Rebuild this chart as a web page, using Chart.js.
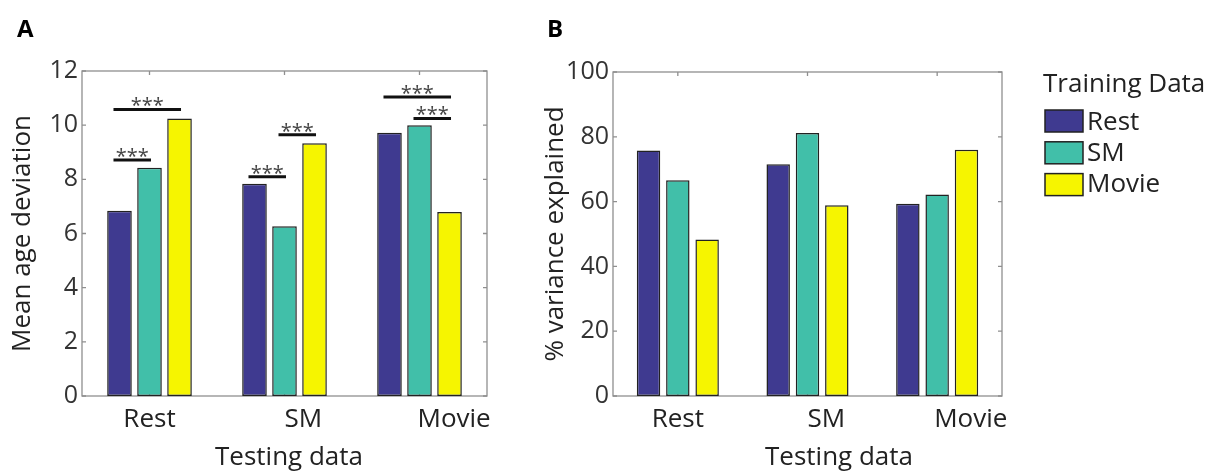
<!DOCTYPE html>
<html>
<head>
<meta charset="utf-8">
<script src="https://cdn.jsdelivr.net/npm/chart.js@4.4.1/dist/chart.umd.min.js"></script>
<style>
html,body{margin:0;padding:0;background:#fff;}
#wrap{position:relative;width:1222px;height:472px;overflow:hidden;background:#fff;}
#cA{position:absolute;left:0;top:0;}
#cB{position:absolute;left:530px;top:0;}
</style>
</head>
<body>
<div id="wrap">
<canvas id="cA" width="530" height="472"></canvas>
<canvas id="cB" width="692" height="472"></canvas>
</div>
<script>
// ---------- data ----------
const testingCategories = ['Rest', 'SM', 'Movie'];
const trainingLabels = ['Rest', 'SM', 'Movie'];

// Panel A: mean age deviation (per testing category), one array per training data
const ageDevTrainRest  = [6.84, 7.84, 9.72];
const ageDevTrainSM    = [8.43, 6.27, 10.00];
const ageDevTrainMovie = [10.25, 9.33, 6.79];
const ageDevTicks = [0, 2, 4, 6, 8, 10, 12];

// Panel B: % variance explained
const varExpTrainRest  = [75.8, 71.5, 59.3];
const varExpTrainSM    = [66.6, 81.2, 62.2];
const varExpTrainMovie = [48.3, 58.9, 76.0];
const varExpTicks = [0, 20, 40, 60, 80, 100];

// Significance brackets in panel A
const sigCategory = [0, 0, 1, 1, 2, 2];
const sigFromSeries = [0, 0, 0, 1, 0, 1];
const sigToSeries   = [2, 1, 1, 2, 2, 2];
const sigLevel = [10.58, 8.71, 8.10, 9.65, 11.04, 10.25];
const sigText = ['***', '***', '***', '***', '***', '***'];

// ---------- styles ----------
const FONT = '"Open Sans", "DejaVu Sans", sans-serif';
const seriesColors = ['#3f3a90', '#41bfa9', '#f6f500'];
const textColor = '#222222';
const frameColor = '#8f8f8f';

function makeDatasets(arrays) {
  return arrays.map((vals, i) => ({
    label: trainingLabels[i],
    data: vals,
    backgroundColor: seriesColors[i],
    borderColor: '#222222',
    borderWidth: 1.5,
    borderSkipped: false
  }));
}

function framePlugin(cfg) {
  return {
    id: 'frame' + cfg.letter,
    beforeDatasetsDraw(chart) {
      const {ctx, chartArea: a, scales: {x, y}} = chart;
      ctx.save();
      ctx.strokeStyle = frameColor;
      ctx.lineWidth = 1.3;
      ctx.beginPath();
      y.ticks.forEach((t, i) => {
        const py = y.getPixelForTick(i);
        ctx.moveTo(a.left, py); ctx.lineTo(a.left + 4, py);
        ctx.moveTo(a.right, py); ctx.lineTo(a.right - 4, py);
      });
      x.ticks.forEach((t, i) => {
        const px = x.getPixelForTick(i);
        ctx.moveTo(px, a.top); ctx.lineTo(px, a.top + 4);
        ctx.moveTo(px, a.bottom); ctx.lineTo(px, a.bottom - 4);
      });
      ctx.stroke();
      ctx.strokeRect(a.left, a.top, a.right - a.left, a.bottom - a.top);
      ctx.restore();
    },
    afterDraw(chart) {
      const {ctx, chartArea: a, scales: {x}} = chart;
      ctx.save();
      ctx.fillStyle = textColor;
      ctx.textBaseline = 'alphabetic';
      // x tick labels
      ctx.font = '26px ' + FONT;
      testingCategories.forEach((c, i) => {
        const px = x.getPixelForValue(i);
        ctx.textAlign = i === 0 ? 'center' : 'left';
        ctx.fillText(c, px + cfg.labelShift[i], 427);
      });
      // x axis title
      ctx.textAlign = 'center';
      ctx.fillText('Testing data', (a.left + a.right) / 2 + cfg.titleShift, 465);
      // panel letter
      ctx.font = 'bold 24px ' + FONT;
      ctx.textAlign = 'left';
      ctx.fillStyle = '#000';
      ctx.fillText(cfg.letter, 17, 37);
      ctx.restore();
    }
  };
}

const sigPlugin = {
  id: 'sig',
  afterDatasetsDraw(chart) {
    const {ctx, scales: {y}} = chart;
    ctx.save();
    for (let k = 0; k < sigLevel.length; k++) {
      const c = sigCategory[k];
      const b0 = chart.getDatasetMeta(sigFromSeries[k]).data[c];
      const b1 = chart.getDatasetMeta(sigToSeries[k]).data[c];
      const x0 = b0.x - 6, x1 = b1.x + 1.5;
      const py = y.getPixelForValue(sigLevel[k]);
      ctx.strokeStyle = '#111';
      ctx.lineWidth = 3;
      ctx.beginPath();
      ctx.moveTo(x0, py); ctx.lineTo(x1, py);
      ctx.stroke();
      ctx.fillStyle = '#444';
      ctx.font = '20px ' + FONT;
      ctx.textAlign = 'center';
      ctx.textBaseline = 'alphabetic';
      ctx.fillText(sigText[k], (x0 + x1) / 2, py + 3);
    }
    ctx.restore();
  }
};

const legendPlugin = {
  id: 'trainLegend',
  afterDraw(chart) {
    const {ctx} = chart;
    ctx.save();
    ctx.fillStyle = textColor;
    ctx.font = '26px ' + FONT;
    ctx.textAlign = 'left';
    ctx.textBaseline = 'alphabetic';
    ctx.fillText('Training Data', 513, 92);
    chart.data.datasets.forEach((ds, i) => {
      const by = 110 + i * 31.8;
      ctx.fillStyle = ds.backgroundColor;
      ctx.fillRect(515, by, 38, 22);
      ctx.strokeStyle = '#222';
      ctx.lineWidth = 1.5;
      ctx.strokeRect(515, by, 38, 22);
      ctx.fillStyle = textColor;
      ctx.fillText(ds.label, 557, 130 + i * 31);
    });
    ctx.restore();
  }
};

function makeOptions(p) {
  return {
    responsive: false,
    animation: false,
    devicePixelRatio: 1,
    layout: {padding: {left: 0, top: p.top, right: p.right, bottom: 0}},
    plugins: {legend: {display: false}, tooltip: {enabled: false}},
    datasets: {bar: {categoryPercentage: p.catPct, barPercentage: p.barPct}},
    scales: {
      x: {
        type: 'category',
        offset: true,
        grid: {display: false, drawTicks: false},
        border: {display: false},
        ticks: {display: false},
        afterFit: (s) => { s.height = 76; }
      },
      y: {
        min: p.ticks[0],
        max: p.ticks[p.ticks.length - 1],
        afterBuildTicks: (s) => { s.ticks = p.ticks.map(v => ({value: v})); },
        grid: {display: false, drawTicks: false},
        border: {display: false},
        ticks: {color: '#333', font: {family: FONT, size: 25}, padding: 4},
        title: {display: true, text: p.yTitle, color: textColor,
                font: {family: FONT, size: 26}, padding: {top: p.titlePad, bottom: 0}},
        afterFit: (s) => { s.width = p.yWidth; }
      }
    }
  };
}

new Chart(document.getElementById('cA'), {
  type: 'bar',
  data: {labels: testingCategories, datasets: makeDatasets([ageDevTrainRest, ageDevTrainSM, ageDevTrainMovie])},
  options: makeOptions({top: 71, right: 43, catPct: 0.667, barPct: 0.82, ticks: ageDevTicks,
                        yTitle: 'Mean age deviation', titlePad: 7, yWidth: 82}),
  plugins: [framePlugin({letter: 'A', labelShift: [0, 0, -2], titleShift: 4.5}), sigPlugin]
});

new Chart(document.getElementById('cB'), {
  type: 'bar',
  data: {labels: testingCategories, datasets: makeDatasets([varExpTrainRest, varExpTrainSM, varExpTrainMovie])},
  options: makeOptions({top: 72, right: 220, catPct: 0.678, barPct: 0.80, ticks: varExpTicks,
                        yTitle: '% variance explained', titlePad: 10, yWidth: 83}),
  plugins: [framePlugin({letter: 'B', labelShift: [0, 0, -3], titleShift: 31.5}), legendPlugin]
});
</script>
</body>
</html>
